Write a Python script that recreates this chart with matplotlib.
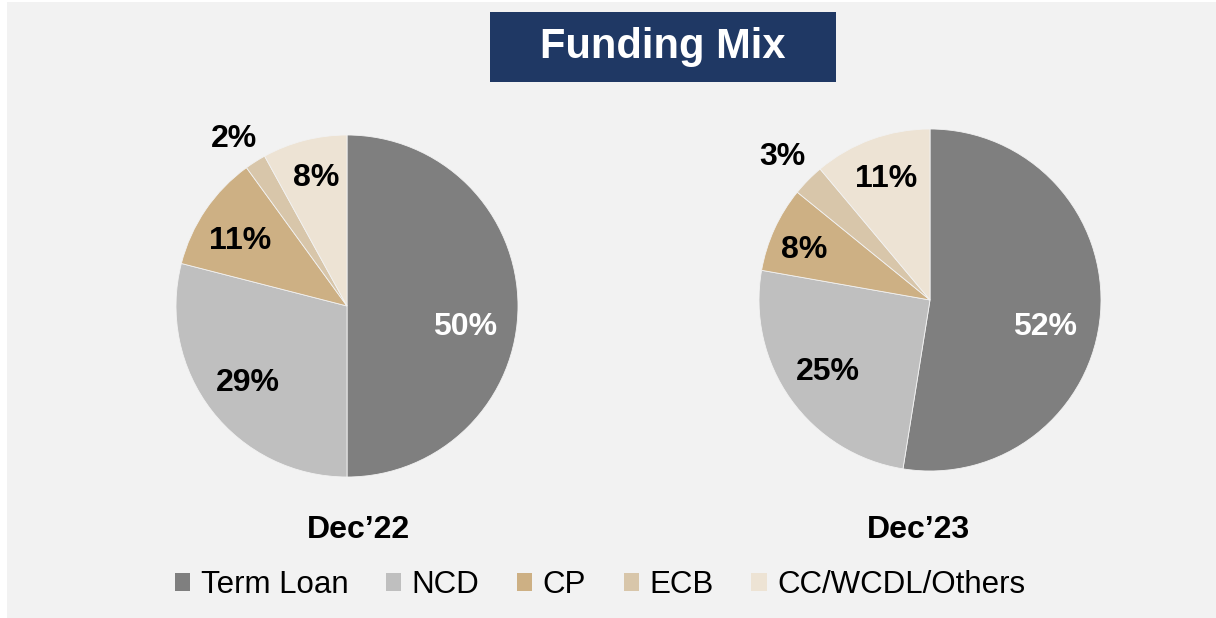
import numpy as np
import matplotlib
matplotlib.use("Agg")
import matplotlib.pyplot as plt
from matplotlib.patches import Rectangle, Patch

plt.rcParams['font.family'] = ['Liberation Sans', 'DejaVu Sans']

categories = ['Term Loan', 'NCD', 'CP', 'ECB', 'CC/WCDL/Others']
colors = ['#7f7f7f', '#bfbfbf', '#cdb084', '#d8c6aa', '#ede3d4']
dec22 = [50, 29, 11, 2, 8]
dec23 = [52, 25, 8, 3, 11]
periods = ['Dec\u201922', 'Dec\u201923']

W, H = 1216, 618
fig = plt.figure(figsize=(W / 100, H / 100), dpi=100, facecolor='white')

# grey panel (thin white strip on left/top like the slide)
fig.patches.append(Rectangle((7 / W, 0), 1 - 7 / W, 1 - 2 / H, transform=fig.transFigure,
                             facecolor='#f2f2f2', edgecolor='none', zorder=-10))

# title box
fig.patches.append(Rectangle((490 / W, 1 - 82 / H), 346 / W, 70 / H, transform=fig.transFigure,
                             facecolor='#1f3864', edgecolor='none', zorder=1))
fig.text(663 / W, 1 - 47 / H, 'Funding Mix', color='white', fontsize=30, fontweight='bold',
         ha='center', va='center', zorder=2)


def draw_pie(values, cx, cy, r, dists, nudges, label, lx, ly):
    ax = fig.add_axes([(cx - r) / W, 1 - (cy + r) / H, 2 * r / W, 2 * r / H])
    wedges, _ = ax.pie(values, colors=colors, startangle=90, counterclock=False,
                       wedgeprops=dict(linewidth=0.6, edgecolor='#f2f2f2'))
    ax.set_xlim(-1, 1)
    ax.set_ylim(-1, 1)
    ax.set_aspect('equal')
    ax.axis('off')
    for i, (w, v, d, n) in enumerate(zip(wedges, values, dists, nudges)):
        # label sits near the middle of its wedge, nudged a little like the original
        ang = np.deg2rad((w.theta1 + w.theta2) / 2 + n)
        col = 'white' if i == 0 else 'black'
        ax.text(d * np.cos(ang), d * np.sin(ang), f'{v}%', ha='center', va='center',
                fontsize=23, fontweight='bold', color=col, clip_on=False)
    fig.text(lx / W, 1 - ly / H, label, ha='center', va='center', fontsize=23, fontweight='bold')


draw_pie(dec22, 347, 306, 171, [0.70, 0.73, 0.73, 1.18, 0.77], [-10, 0, 3, 1.5, -1],
         periods[0], 358, 530)
draw_pie(dec23, 930, 300, 171, [0.69, 0.73, 0.79, 1.20, 0.75], [-8.5, 0, 2.7, 0.5, 0],
         periods[1], 918, 530)

handles = [Patch(facecolor=c, edgecolor='none') for c in colors]
fig.legend(handles, categories, loc='center', bbox_to_anchor=(600 / W, 1 - 585 / H), ncol=5,
           frameon=False, fontsize=22.5, handlelength=0.5, handleheight=0.5,
           handletextpad=0.33, columnspacing=1.2)

fig.savefig('out.png', dpi=100, facecolor=fig.get_facecolor())
